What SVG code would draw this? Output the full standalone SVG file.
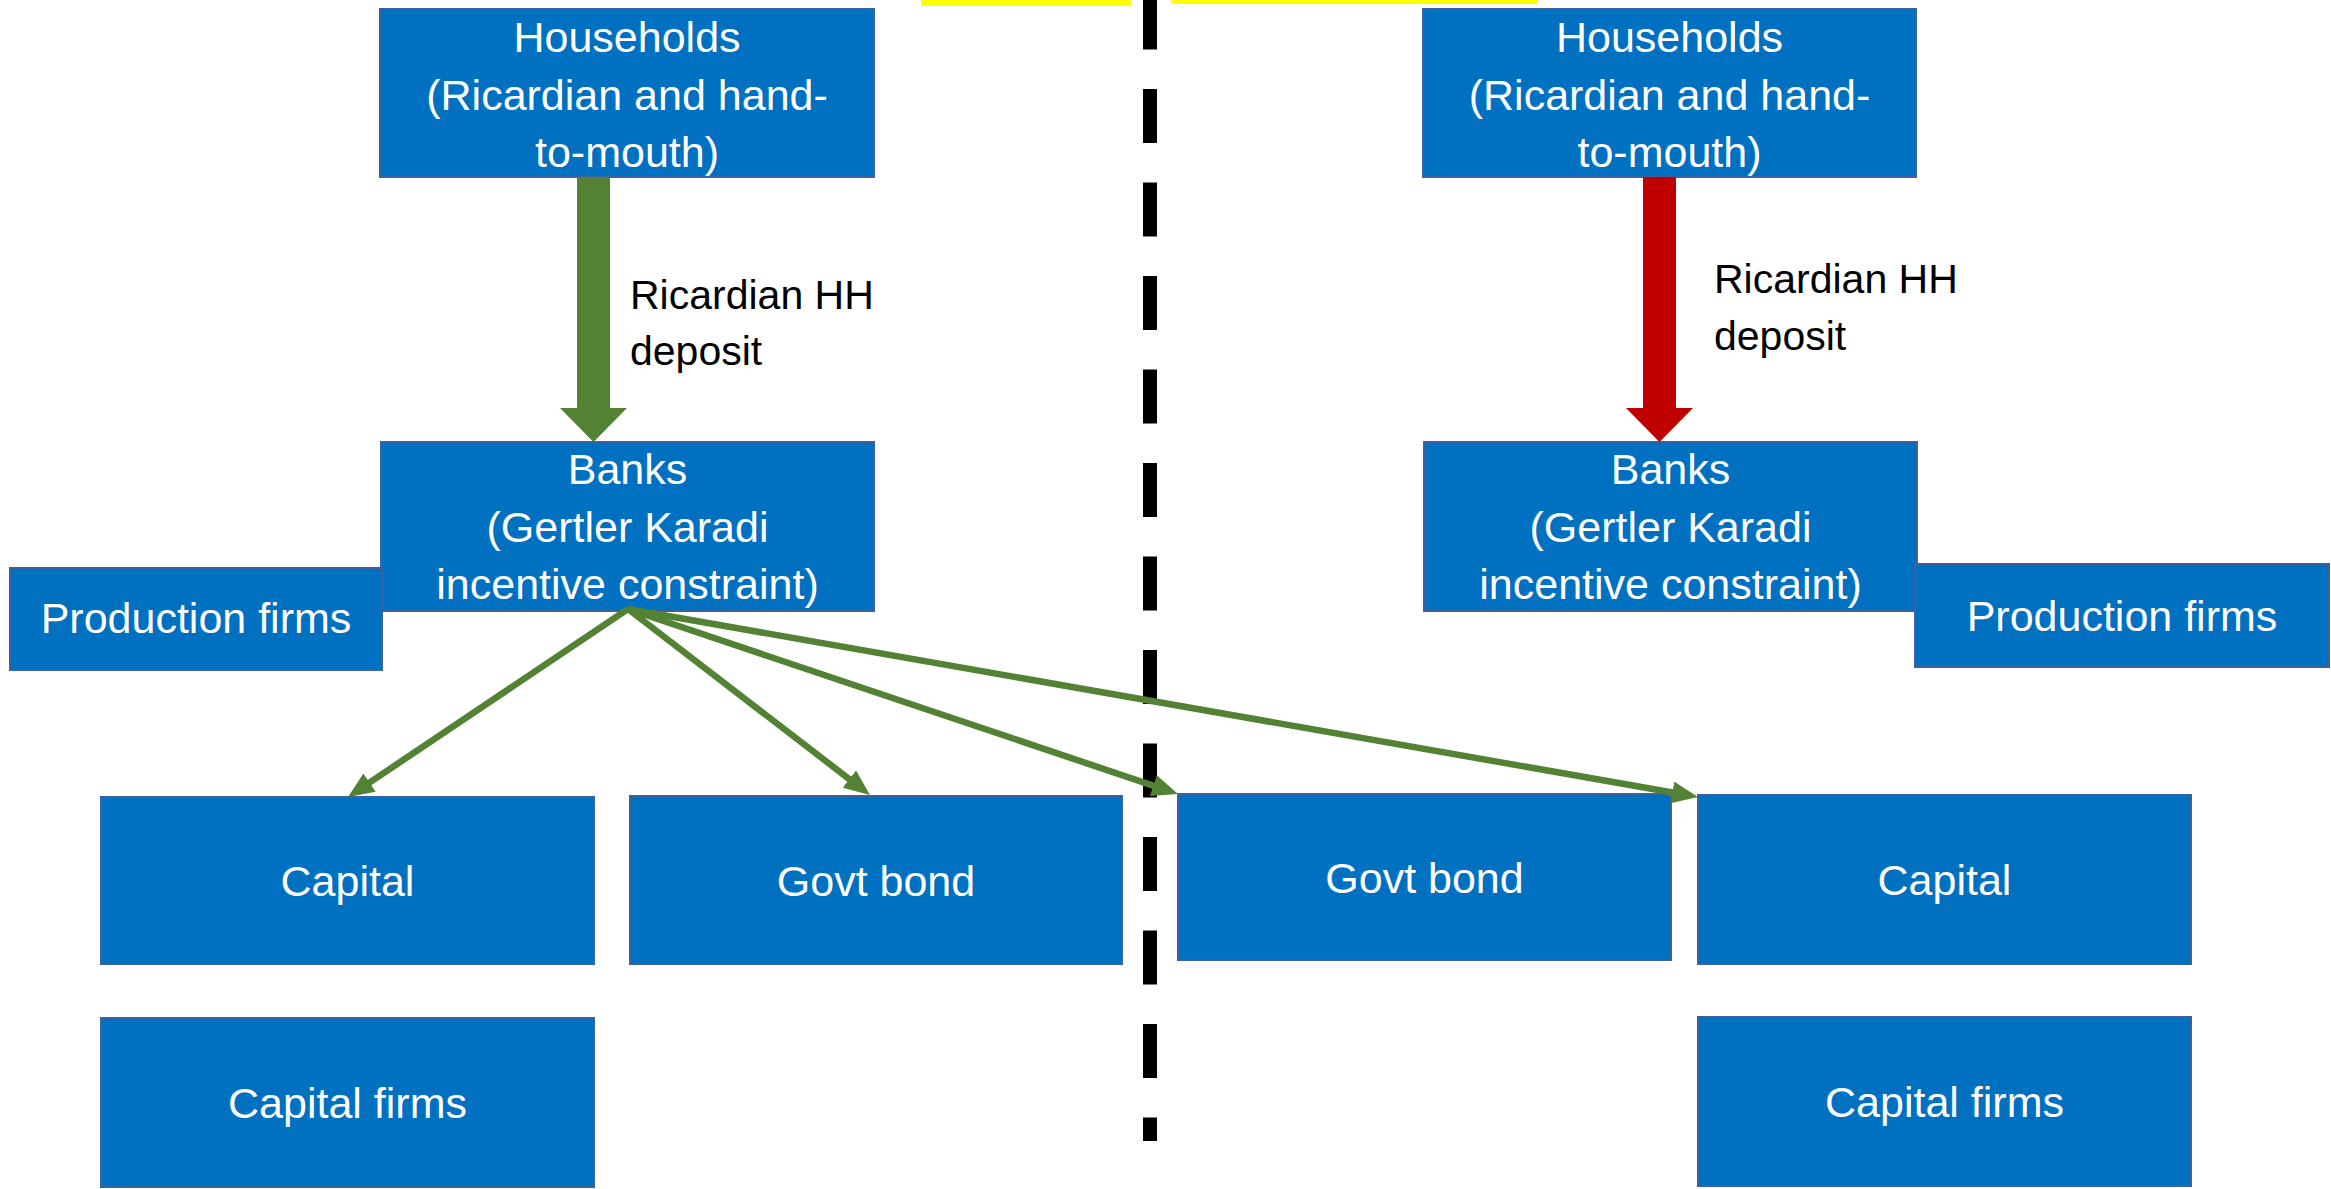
<svg xmlns="http://www.w3.org/2000/svg" width="2331" height="1189" viewBox="0 0 2331 1189">
  <style>
    .box { fill: #0070C0; stroke: #3A62A0; stroke-width: 2; }
    .bt { font-family: "Liberation Sans", Arial, sans-serif; font-size: 43px; fill: #FFFFFF; text-anchor: middle; }
    .lbl { font-family: "Liberation Sans", Arial, sans-serif; font-size: 41px; fill: #000000; }
    .thin { stroke: #548235; stroke-width: 6.5; fill: none; marker-end: url(#ah); }
  </style>
  <defs>
    <marker id="ah" markerUnits="userSpaceOnUse" markerWidth="30" markerHeight="26" refX="6" refY="11" orient="auto" viewBox="0 0 30 26">
      <path d="M0,0 L26,11 L0,22 z" fill="#548235"/>
    </marker>
  </defs>
  <rect x="0" y="0" width="2331" height="1189" fill="#FFFFFF"/>

  <g id="highlights">
    <rect x="921" y="0" width="210" height="6" fill="#FFFF00"/>
    <rect x="1171" y="0" width="367" height="4" fill="#FFFF00"/>
  </g>

  <g id="divider">
    <line x1="1150" y1="-4.5" x2="1150" y2="1141" stroke="#000000" stroke-width="14" stroke-dasharray="54 39.5"/>
  </g>

  <g id="households-left">
    <rect class="box" x="380" y="9" width="494" height="168"/>
    <text class="bt" x="627" y="52">Households</text>
    <text class="bt" x="627" y="110">(Ricardian and hand-</text>
    <text class="bt" x="627" y="167">to-mouth)</text>
  </g>
  <g id="banks-left">
    <rect class="box" x="381" y="442" width="493" height="169"/>
    <text class="bt" x="627.5" y="484">Banks</text>
    <text class="bt" x="627.5" y="542">(Gertler Karadi</text>
    <text class="bt" x="627.5" y="599">incentive constraint)</text>
  </g>
  <g id="production-left">
    <rect class="box" x="10" y="568" width="372" height="102"/>
    <text class="bt" x="196" y="633">Production firms</text>
  </g>
  <g id="capital-left">
    <rect class="box" x="101" y="797" width="493" height="167"/>
    <text class="bt" x="347.5" y="896">Capital</text>
  </g>
  <g id="govtbond-left">
    <rect class="box" x="630" y="796" width="492" height="168"/>
    <text class="bt" x="876" y="896">Govt bond</text>
  </g>
  <g id="capitalfirms-left">
    <rect class="box" x="101" y="1018" width="493" height="169"/>
    <text class="bt" x="347.5" y="1118">Capital firms</text>
  </g>

  <g id="households-right">
    <rect class="box" x="1423" y="9" width="493" height="168"/>
    <text class="bt" x="1669.5" y="52">Households</text>
    <text class="bt" x="1669.5" y="110">(Ricardian and hand-</text>
    <text class="bt" x="1669.5" y="167">to-mouth)</text>
  </g>
  <g id="banks-right">
    <rect class="box" x="1424" y="442" width="493" height="169"/>
    <text class="bt" x="1670.5" y="484">Banks</text>
    <text class="bt" x="1670.5" y="542">(Gertler Karadi</text>
    <text class="bt" x="1670.5" y="599">incentive constraint)</text>
  </g>
  <g id="production-right">
    <rect class="box" x="1915" y="564" width="414" height="103"/>
    <text class="bt" x="2122" y="631">Production firms</text>
  </g>
  <g id="govtbond-right">
    <rect class="box" x="1178" y="794" width="493" height="166"/>
    <text class="bt" x="1424.5" y="893">Govt bond</text>
  </g>
  <g id="capital-right">
    <rect class="box" x="1698" y="795" width="493" height="169"/>
    <text class="bt" x="1944.5" y="895">Capital</text>
  </g>
  <g id="capitalfirms-right">
    <rect class="box" x="1698" y="1017" width="493" height="169"/>
    <text class="bt" x="1944.5" y="1117">Capital firms</text>
  </g>

  <g id="connectors">
    <polygon points="577,177 610,177 610,408 627,408 593.5,442 560,408 577,408" fill="#548235"/>
    <polygon points="1643,177 1676,177 1676,408 1693,408 1659.5,442 1626,408 1643,408" fill="#C00000"/>
    <line class="thin" x1="628" y1="609" x2="364.6" y2="785.9"/>
    <line class="thin" x1="628" y1="609" x2="854.1" y2="782.8"/>
    <line class="thin" x1="628" y1="609" x2="1159" y2="787.6"/>
    <line class="thin" x1="628" y1="609" x2="1678.3" y2="793.5"/>
  </g>

  <g id="labels">
    <text class="lbl" x="630" y="309">Ricardian HH</text>
    <text class="lbl" x="630" y="365">deposit</text>
    <text class="lbl" x="1714" y="293">Ricardian HH</text>
    <text class="lbl" x="1714" y="350">deposit</text>
  </g>
</svg>
